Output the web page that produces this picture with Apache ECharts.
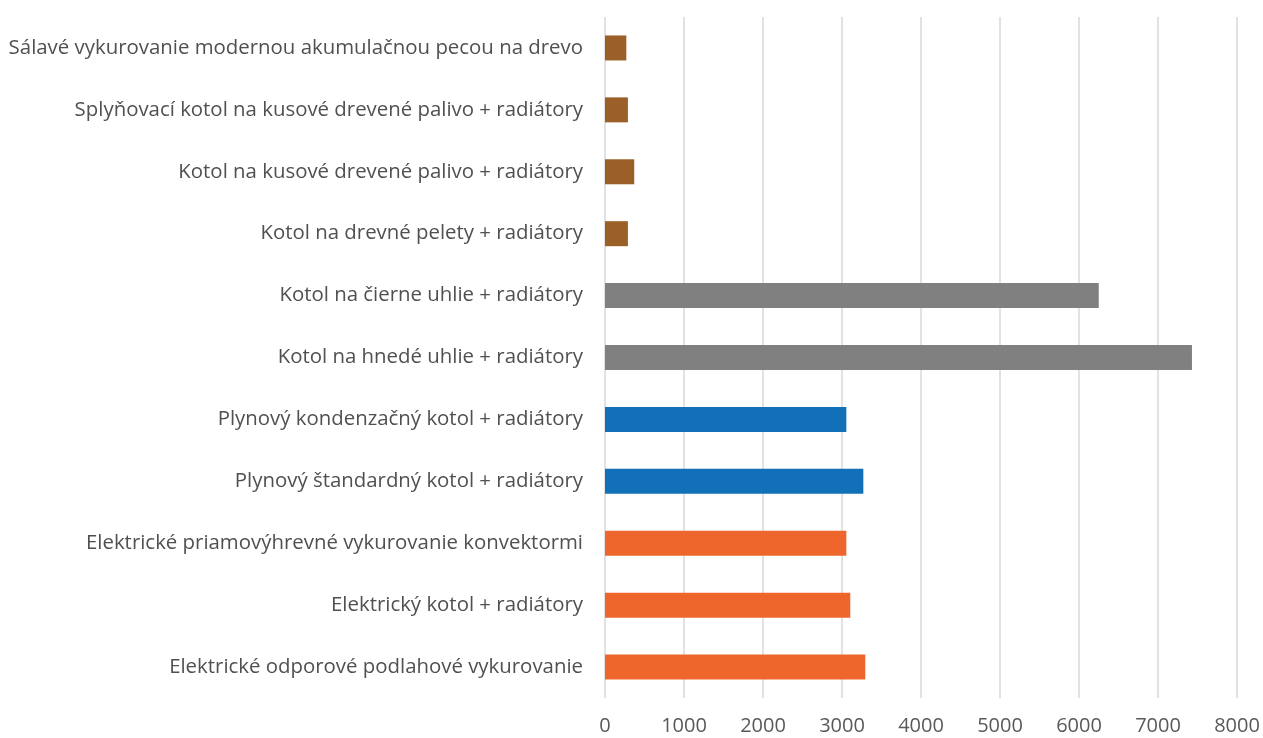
<!DOCTYPE html>
<html>
<head>
<meta charset="utf-8">
<style>html,body{margin:0;padding:0;background:#fff}#c{width:1263px;height:738px}</style>
<script src="https://cdn.jsdelivr.net/npm/echarts@6/dist/echarts.min.js"></script>
</head>
<body>
<div id="c"></div>
<script>
const categories = [
  "Sálavé vykurovanie modernou akumulačnou pecou na drevo",
  "Splyňovací kotol na kusové drevené palivo + radiátory",
  "Kotol na kusové drevené palivo + radiátory",
  "Kotol na drevné pelety + radiátory",
  "Kotol na čierne uhlie + radiátory",
  "Kotol na hnedé uhlie + radiátory",
  "Plynový kondenzačný kotol + radiátory",
  "Plynový štandardný kotol + radiátory",
  "Elektrické priamovýhrevné vykurovanie konvektormi",
  "Elektrický kotol + radiátory",
  "Elektrické odporové podlahové vykurovanie"
];
const values = [270, 290, 370, 290, 6250, 7430, 3055, 3270, 3055, 3105, 3295];
const groups = ["wood","wood","wood","wood","coal","coal","gas","gas","el","el","el"];
const xTicks = [0, 1000, 2000, 3000, 4000, 5000, 6000, 7000, 8000];

const groupColor = {wood:"#9B6027", coal:"#808080", gas:"#1170B8", el:"#EE662C"};
const chart = echarts.init(document.getElementById('c'));
chart.setOption({
  animation:false,
  grid:{left:605, right:26, top:17, bottom:40, containLabel:false},
  xAxis:{type:'value', min:xTicks[0], max:xTicks[xTicks.length-1], interval:1000,
    axisLine:{show:false}, axisTick:{show:false},
    splitLine:{lineStyle:{color:'#d9d9d9', width:1.5}},
    axisLabel:{color:'#595959', fontSize:20, fontFamily:'Open Sans', margin:18,
      formatter:v=>String(v)}},
  yAxis:{type:'category', data:categories, inverse:true,
    axisLine:{show:false}, axisTick:{show:false},
    axisLabel:{color:'#505050', fontSize:20.4, fontFamily:'Open Sans', margin:22}},
  series:[{type:'bar', barWidth:25,
    data:values.map((v,i)=>({value:v, itemStyle:{color:groupColor[groups[i]]}}))}]
});
</script>
</body>
</html>
